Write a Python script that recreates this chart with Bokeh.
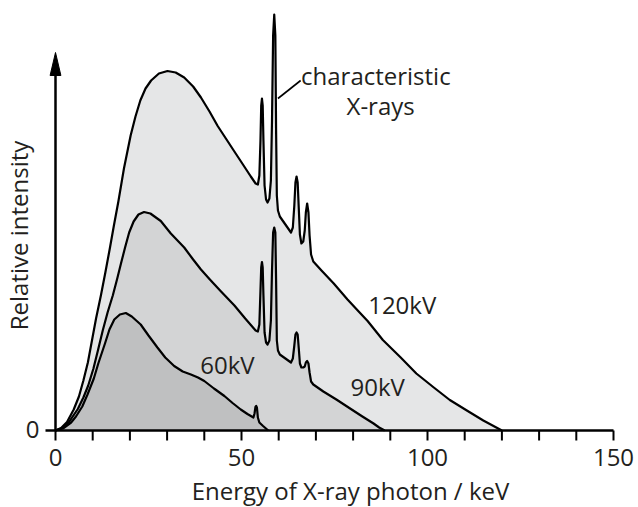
import math
from bokeh.plotting import figure
from bokeh.models import Label
from bokeh.core.properties import value
from bokeh.embed import file_html
from bokeh.resources import INLINE

# ---------------- data (relative intensity, arbitrary units) ----------------
energy_120 = [0, 1.5, 3.1, 4.9, 6.3, 7.5, 8.7, 9.8, 10.9, 12.2, 13.4, 14.6, 15.7, 16.9, 18.4,
              20.2, 21.5, 22.8, 24.2, 25.7, 27.8, 30.1, 32.3, 34.6, 37.0, 39.1, 41.4, 43.6,
              45.8, 48.0, 50.3, 52.5, 53.8, 54.4, 54.8, 55.1, 55.3, 55.5, 55.7, 55.9, 56.2,
              56.6, 57.0, 57.5, 57.9, 58.2, 58.5, 58.8, 59.1, 59.3, 59.5, 59.8, 60.3, 61.8,
              63.3, 63.8, 64.2, 64.5, 64.8, 65.1, 65.4, 65.7, 66.1, 66.6, 67.0, 67.3, 67.65,
              68.0, 68.3, 68.7, 69.3, 71.5, 74.8, 78.5, 81.5, 83.9, 88.0, 92.8, 97.0, 101.7,
              106.0, 110.8, 115.0, 118.0, 120.0]
intensity_120 = [0, 2.5, 8.5, 21, 34, 50, 68, 90, 112, 135, 158, 182, 205, 229, 262,
                 295, 314, 330, 342, 350, 357, 359.5, 358, 353, 344, 333, 319, 304.5,
                 292, 279.5, 266.5, 254, 247, 246, 255, 290, 325, 332, 325, 290, 245,
                 231, 228, 232, 250, 310, 395, 416, 395, 300, 235, 220, 214, 206,
                 198, 203, 225, 248, 254, 248, 222, 196, 187, 189, 200, 218, 227,
                 218, 195, 176, 169, 160, 147, 131, 119, 109.5, 90.5, 73, 57, 43,
                 30.5, 19.5, 10, 4, 0]

energy_90 = [0, 1.8, 3.6, 6.0, 7.5, 8.8, 10.2, 11.4, 12.7, 14.0, 15.4, 16.6, 17.6, 18.7,
             19.8, 21.0, 22.3, 23.8, 25.5, 28.3, 31.0, 34.6, 37.0, 39.1, 41.5, 44.5, 48.1,
             51.0, 53.8, 54.4, 54.8, 55.1, 55.3, 55.5, 55.7, 55.9, 56.2, 56.6, 57.0, 57.5,
             57.9, 58.2, 58.5, 58.8, 59.1, 59.3, 59.5, 59.8, 60.3, 61.8, 63.3, 63.8, 64.2,
             64.5, 64.8, 65.1, 65.4, 65.7, 66.1, 66.6, 67.0, 67.3, 67.65, 68.0, 68.3, 68.7,
             69.3, 72.0, 75.5, 79.4, 82.5, 85.5, 87.0, 88.5]
intensity_90 = [0, 2.5, 8.3, 21.5, 33, 45, 62, 80, 100, 118, 135, 152, 167, 183,
                198, 209, 216, 218.5, 217, 209.5, 197, 183, 171, 161, 151, 139, 125,
                112, 100, 99, 106, 140, 163, 168.5, 163, 135, 98, 88, 86, 90,
                110, 160, 198, 203, 198, 150, 90, 80, 76, 72, 68, 72, 85,
                96, 98, 96, 82, 67, 63, 63, 64, 68, 69.5, 67, 58, 49,
                46, 39, 31, 21.5, 14, 7, 3, 0]

energy_60 = [0, 2.0, 4.2, 5.5, 7.2, 8.6, 10.3, 11.5, 13.3, 14.5, 15.8, 17.3, 18.9, 20.5,
             22.9, 25.0, 27.4, 29.5, 31.9, 34.2, 36.4, 38.3, 40.0, 42.6, 45.4, 47.6, 49.8,
             51.6, 53.2, 53.5, 53.75, 53.95, 54.15, 54.4, 54.8, 55.8, 57.2]
intensity_60 = [0, 2, 8, 14, 24, 36, 52, 67, 87, 101, 111, 116, 117.5, 114,
                106, 95, 83, 73, 64.5, 59, 56, 53, 49.5, 42, 34.5, 27.5, 21,
                16.5, 13, 17, 23.5, 24.5, 23, 13, 8, 4.5, 0]

x_major_ticks = [0, 50, 100, 150]
x_major_labels = ["0", "50", "100", "150"]
x_minor_ticks = [10, 20, 30, 40, 60, 70, 80, 90, 110, 120, 130, 140]
y_tick_label = "0"

series_labels = ["120kV", "90kV", "60kV"]

# ---------------- figure (the frame fills the whole canvas; axes drawn through the data scale) ----------------
FONT = "Open Sans"
FS = "24px"
TXT = "#231f20"
PX_PER_KEV = 3.72
AXIS_PX = 55          # canvas x of E = 0
BASE_PX = 430         # canvas y of intensity = 0
W, H = 638, 507
DY = 9.5              # lift applied to text anchored on its alphabetic baseline
x_start = -AXIS_PX / PX_PER_KEV
x_end = x_start + W / PX_PER_KEV

p = figure(width=W, height=H, x_range=(x_start, x_end), y_range=(BASE_PX - H, BASE_PX),
           output_backend="svg", toolbar_location=None,
           min_border_left=0, min_border_right=0, min_border_top=0, min_border_bottom=0)
p.axis.visible = False
p.outline_line_color = None
p.grid.visible = False
p.background_fill_color = "white"

fills = ["#e5e6e7", "#d3d4d5", "#bfc0c1"]
data = [(energy_120, intensity_120), (energy_90, intensity_90), (energy_60, intensity_60)]
for (ex, iy), fc in zip(data, fills):
    p.varea(x=ex, y1=[0] * len(ex), y2=iy, fill_color=fc)
    p.line(ex, iy, line_color="black", line_width=2.2, line_join="round")

# horizontal axis: baseline (extends left to form the y "0" tick), ticks and labels
tick_len = 10
p.line([-tick_len / PX_PER_KEV, x_major_ticks[-1]], [0, 0], line_color="black", line_width=2.5)
all_ticks = x_major_ticks + x_minor_ticks
p.segment(x0=all_ticks, y0=[0] * len(all_ticks), x1=all_ticks, y1=[-tick_len] * len(all_ticks),
          line_color="black", line_width=2)
p.text(x=x_major_ticks, y=[-36.7 + DY] * len(x_major_ticks), text=x_major_labels,
       text_font=value(FONT), text_font_size=FS, text_color=TXT,
       text_align="center", text_baseline="alphabetic")

# vertical axis line with arrow head
axis_top = 378
head_len = 23
head_half = 1.45
p.line([0, 0], [0, axis_top - head_len + 2], line_color="black", line_width=2.5)
p.patch([-head_half, 0, head_half], [axis_top - head_len, axis_top, axis_top - head_len],
        fill_color="black", line_color="black", line_width=1)

# leader line for characteristic X-rays
p.line([59.8, 65.9], [332, 350], line_color="black", line_width=1.6)

def add_text(x, y, t, align="center", baseline="alphabetic", angle=0.0):
    p.add_layout(Label(x=x, y=y, text=t, text_font=FONT, text_font_size=FS,
                       text_color=TXT, text_align=align, text_baseline=baseline, angle=angle))

add_text(-4.3, -8 + DY, y_tick_label, align="right")
add_text(66.0, 345.5 + DY, "characteristic", align="left")
add_text(87.4, 316 + DY, "X-rays")
add_text(93.2, 115 + DY + 1.5, series_labels[0])
add_text(86.6, 33 + DY + 1.5, series_labels[1])
add_text(46.2, 55 + DY + 2, series_labels[2])
add_text(79.3, -69 + DY, "Energy of X-ray photon / keV")
add_text(-9.85, 195, "Relative intensity", baseline="middle", angle=math.pi / 2)

open("out.html", "w").write(file_html(p, INLINE))
